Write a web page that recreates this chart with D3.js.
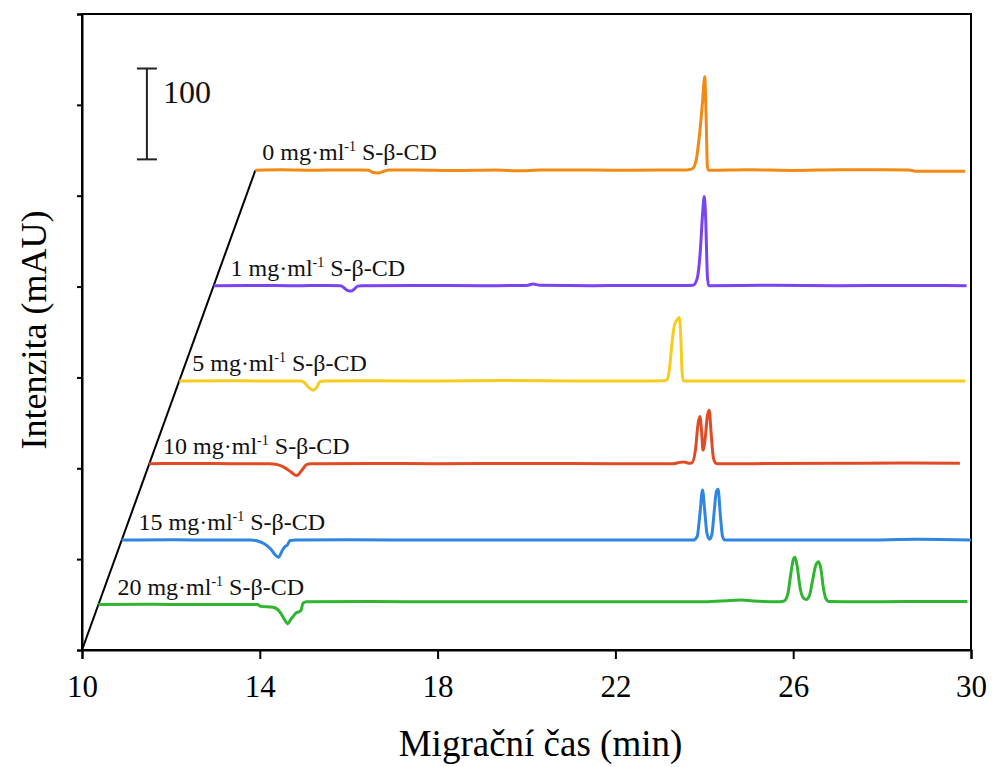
<!DOCTYPE html>
<html>
<head>
<meta charset="utf-8">
<script src="https://cdn.jsdelivr.net/npm/d3@7"></script>
<style>
  html, body { margin: 0; padding: 0; background: #fff; }
  svg { display: block; }
</style>
</head>
<body>
<svg id="chart" width="993" height="767"></svg>
<script>
// ---------- data ----------
const concentrations = [0, 1, 5, 10, 15, 20];          // mg·ml-1 S-β-CD
const offsets = [528, 401, 296, 205, 121, 50];         // waterfall offsets (mAU)
const xTicks = [10, 14, 18, 22, 26, 30];
const yTicks = [0, 100, 200, 300, 400, 500, 600, 700];
const scaleBarValue = 100;
const slantLine = [[10, 0], [13.9, 528]];

// [time (min), signal (mAU) relative to offset]
const trace0 = [[13.9,0],[14.5,0.5],[15.2,0],[15.8,0.4],[16.3,0.2],[16.45,0],[16.55,-2.5],[16.68,-3],[16.8,-1],[16.9,0.3],[17.5,0.4],[18.4,-0.3],[19.3,0.2],[19.8,-0.6],[20.3,0.2],[21.0,0.4],[22.0,0],[23.0,0.2],[23.6,0.4],[23.73,1.5],[23.82,12],[23.89,38],[23.96,75],[24.01,103],[24.04,60],[24.07,4],[24.1,0],[25.0,0.6],[26.0,-0.2],[27.0,0.6],[28.0,0.7],[28.6,0.4],[28.75,-1],[29.87,-1]];
const trace1 = [[12.96,0],[13.8,0.3],[14.8,0],[15.5,0.2],[15.82,0],[15.9,-2.5],[15.98,-5.5],[16.05,-6],[16.12,-4],[16.2,-0.5],[16.3,0],[17.5,0.3],[19.0,0],[20.0,0.3],[20.15,1.8],[20.3,0.5],[21.5,0],[22.5,0.2],[23.5,0.1],[23.75,0.5],[23.84,8],[23.91,38],[23.96,78],[24.0,98],[24.03,75],[24.07,10],[24.1,0],[25.5,0.4],[27.0,0],[28.5,0.3],[29.9,0]];
const trace5 = [[12.19,0],[13.5,0.3],[14.5,0],[14.92,0],[15.0,-1.5],[15.1,-7],[15.2,-10],[15.28,-7],[15.35,-1],[15.45,0],[16.5,0.3],[18.0,0],[19.6,0.5],[21.0,0.1],[22.5,0],[23.1,0.3],[23.17,2],[23.22,15],[23.28,45],[23.33,62],[23.37,66],[23.44,70],[23.47,50],[23.5,10],[23.53,0],[25.0,0.2],[26.5,0],[28.0,0.2],[29.87,0]];
const trace10 = [[11.51,0],[12.5,0.3],[13.5,0],[14.2,0],[14.4,-1],[14.55,-4],[14.7,-9],[14.83,-13],[14.95,-7],[15.05,-1],[15.15,0],[16.5,0.3],[18.0,0],[20.0,0.3],[22.0,0],[23.3,0],[23.45,1.5],[23.55,1.8],[23.65,0.5],[23.72,1],[23.8,15],[23.86,44],[23.9,52],[23.94,35],[23.97,15],[24.02,28],[24.07,53],[24.11,59],[24.15,36],[24.2,8],[24.25,1],[24.3,0],[25.5,0.2],[27.0,0.5],[28.5,0.8],[29.75,0.5]];
const trace15 = [[10.89,0],[12.0,0.3],[13.0,0],[13.8,0],[13.95,-1],[14.1,-4],[14.25,-10],[14.36,-17],[14.42,-19],[14.5,-12],[14.57,-7],[14.62,-5.5],[14.68,-0.5],[14.8,0],[16.0,0.3],[18.0,0],[20.0,0.2],[22.0,0],[23.75,0],[23.84,4],[23.9,28],[23.96,55],[24.01,32],[24.06,7],[24.12,1],[24.17,6],[24.22,30],[24.27,53],[24.31,56],[24.36,28],[24.41,4],[24.46,0],[26.0,0.2],[27.5,0],[28.8,0.8],[30.0,0]];
const trace20 = [[10.37,0],[11.5,0.3],[12.5,0],[13.5,0.2],[13.95,0],[14.02,-2],[14.3,-3],[14.45,-8],[14.55,-16],[14.63,-21],[14.7,-16],[14.75,-13],[14.82,-9],[14.88,-8],[14.93,-6],[14.97,1.5],[15.05,3],[16.5,3.3],[18.0,3],[20.0,3.2],[22.0,3],[24.0,3.2],[24.6,4.5],[24.85,5],[25.1,3.8],[25.7,3],[25.8,4],[25.88,12],[25.95,35],[26.0,49],[26.04,52],[26.09,42],[26.15,20],[26.22,8],[26.29,5.5],[26.36,9],[26.43,25],[26.5,42],[26.57,47],[26.62,40],[26.68,18],[26.74,6],[26.8,3.5],[27.5,3],[28.5,3.4],[29.92,3.5]];
const traces = [trace0, trace1, trace5, trace10, trace15, trace20];

// ---------- layout ----------
const colors = ["#f08a14", "#7a44f2", "#f6cc1e", "#e04b26", "#2f86e0", "#2fb52f"];
const svg = d3.select("#chart");
const x = d3.scaleLinear().domain([10, 30]).range([82, 971]);
const y = d3.scaleLinear().domain([0, 700]).range([650, 14]);
const serif = "'Liberation Serif', 'Times New Roman', serif";

// frame
svg.append("rect")
  .attr("x", x(10)).attr("y", y(700))
  .attr("width", x(30) - x(10)).attr("height", y(0) - y(700))
  .attr("fill", "none").attr("stroke", "#000").attr("stroke-width", 2);

// x axis
const gx = svg.append("g").attr("transform", `translate(0,${y(0)})`)
  .call(d3.axisBottom(x).tickValues(xTicks).tickSize(9).tickPadding(16).tickFormat(d3.format("d")));
gx.select(".domain").attr("stroke-width", 2);
gx.selectAll(".tick line").attr("stroke-width", 2);
gx.selectAll(".tick text").attr("font-family", serif).attr("font-size", 31).attr("fill", "#000");

// y axis (no labels)
const gy = svg.append("g").attr("transform", `translate(${x(10)},0)`)
  .call(d3.axisLeft(y).tickValues(yTicks).tickSize(5).tickFormat(""));
gy.select(".domain").attr("stroke-width", 2);
gy.selectAll(".tick line").attr("stroke-width", 2);

// axis titles
svg.append("text")
  .attr("x", (x(10) + x(30)) / 2 + 14).attr("y", 756)
  .attr("text-anchor", "middle").attr("font-family", serif).attr("font-size", 37)
  .text("Migrační čas (min)");
svg.append("text")
  .attr("transform", `translate(46,330) rotate(-90)`)
  .attr("text-anchor", "middle").attr("font-family", serif).attr("font-size", 36)
  .text("Intenzita (mAU)");

// slant line
svg.append("path")
  .datum(slantLine)
  .attr("d", d3.line().x(d => x(d[0])).y(d => y(d[1])))
  .attr("stroke", "#000").attr("stroke-width", 2).attr("fill", "none");

// traces
const line = d3.line().curve(d3.curveMonotoneX);
traces.forEach((tr, i) => {
  svg.append("path")
    .datum(tr)
    .attr("d", line.x(d => x(d[0])).y(d => y(d[1] + offsets[i])))
    .attr("fill", "none")
    .attr("stroke", colors[i])
    .attr("stroke-width", 3)
    .attr("stroke-linejoin", "round");
});

// trace labels
const labelDx = [7, 17, 13, 14, 17, 19];
traces.forEach((tr, i) => {
  const t = svg.append("text")
    .attr("x", x(tr[0][0]) + labelDx[i])
    .attr("y", y(offsets[i]) - 10)
    .attr("font-family", serif).attr("font-size", 24).attr("fill", "#111");
  t.append("tspan").text(`${concentrations[i]} mg·ml`);
  t.append("tspan").attr("font-size", 14).attr("dy", -9).text("-1");
  t.append("tspan").attr("dy", 9).text(" S-β-CD");
});

// scale bar
const sbX = x(11.46);
const sbTop = y(540 + scaleBarValue), sbBot = y(540);
const sb = svg.append("g").attr("stroke", "#222").attr("stroke-width", 2);
sb.append("line").attr("x1", sbX).attr("x2", sbX).attr("y1", sbTop).attr("y2", sbBot);
sb.append("line").attr("x1", sbX - 10).attr("x2", sbX + 10).attr("y1", sbTop).attr("y2", sbTop);
sb.append("line").attr("x1", sbX - 10).attr("x2", sbX + 10).attr("y1", sbBot).attr("y2", sbBot);
svg.append("text")
  .attr("x", sbX + 16).attr("y", sbTop + 34)
  .attr("font-family", serif).attr("font-size", 32).attr("fill", "#111")
  .text(String(scaleBarValue));
</script>
</body>
</html>
